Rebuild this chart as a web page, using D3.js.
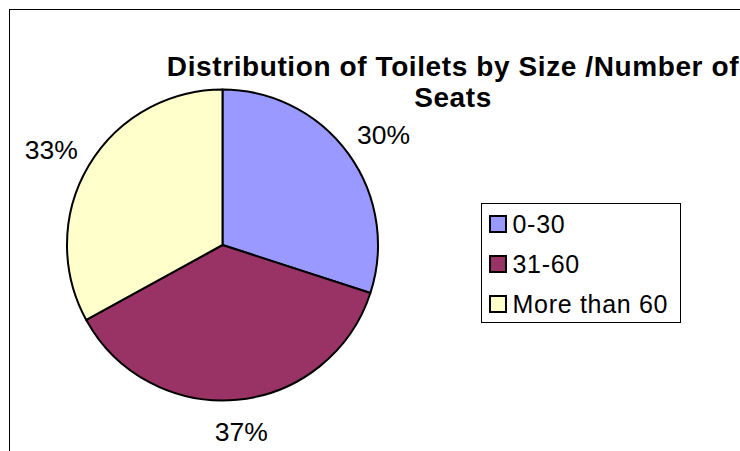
<!DOCTYPE html>
<html>
<head>
<meta charset="utf-8">
<script src="https://cdn.jsdelivr.net/npm/d3@7"></script>
<style>
  html, body { margin: 0; padding: 0; background: #fff; }
  svg { display: block; font-family: Arial, "Liberation Sans", sans-serif; }
</style>
</head>
<body>
<svg id="chart" width="740" height="451"></svg>
<script>
// Seat-count groups and their share of toilets (percent)
const categories = ["0-30", "31-60", "More than 60"];
const shares = [30, 37, 33];
const colors = ["#9999FF", "#993366", "#FFFFCC"];
const titleLines = ["Distribution of Toilets by Size /Number of", "Seats"];

const svg = d3.select("#chart");

// Chart frame (runs off the right and bottom edges)
svg.append("rect")
  .attr("x", 9.5).attr("y", 9.5)
  .attr("width", 800).attr("height", 500)
  .attr("fill", "#fff").attr("stroke", "#000").attr("stroke-width", 1);

// Title, two centred lines
const title = svg.append("text")
  .attr("font-weight", "bold").attr("font-size", 28).attr("fill", "#000")
  .attr("letter-spacing", 0.6)
  .attr("text-anchor", "middle");
title.append("tspan").attr("x", 453).attr("y", 76).text(titleLines[0]);
title.append("tspan").attr("x", 453).attr("y", 107).text(titleLines[1]);

// Pie
const cx = 222.5, cy = 245, r = 155.5;
const pie = d3.pie().sort(null).value(d => d)(shares);
const arc = d3.arc().innerRadius(0).outerRadius(r);
const color = d3.scaleOrdinal().domain(categories).range(colors);

const g = svg.append("g").attr("transform", `translate(${cx},${cy})`);
g.selectAll("path").data(pie).join("path")
  .attr("d", arc)
  .attr("fill", (d, i) => color(categories[i]))
  .attr("stroke", "#000").attr("stroke-width", 2).attr("stroke-linejoin", "round");

// Percentage labels: each label box sits just outside its slice's mid-point
const gap = 17;
g.selectAll("text.pct").data(pie).join("text")
  .attr("class", "pct")
  .attr("font-size", 26.5).attr("fill", "#000")
  .attr("text-anchor", "middle")
  .text(d => Math.round(d.data / d3.sum(shares) * 100) + "%")
  .each(function(d) {
    const a = (d.startAngle + d.endAngle) / 2;
    const s = Math.sin(a), c = Math.cos(a);
    const bb = this.getBBox();
    const px = (r + gap) * s + (bb.width / 2) * s;
    const py = -(r + gap) * c - (bb.height / 2) * c;
    d3.select(this).attr("x", px).attr("y", py).attr("dy", "0.35em");
  });

// Legend
const lg = svg.append("g").attr("transform", "translate(481.5,203.5)");
lg.append("rect").attr("width", 199).attr("height", 119)
  .attr("fill", "#fff").attr("stroke", "#000").attr("stroke-width", 1);
const rowY = d3.scalePoint().domain(categories).range([20.5, 100.5]);
const items = lg.selectAll("g.item").data(categories).join("g")
  .attr("class", "item")
  .attr("transform", d => `translate(0,${rowY(d)})`);
items.append("rect")
  .attr("x", 8.5).attr("y", -8).attr("width", 16).attr("height", 16)
  .attr("fill", d => color(d)).attr("stroke", "#000").attr("stroke-width", 2);
items.append("text")
  .attr("x", 31).attr("dy", "0.36em")
  .attr("font-size", 25).attr("letter-spacing", 0.7).attr("fill", "#000")
  .text(d => d);
</script>
</body>
</html>
